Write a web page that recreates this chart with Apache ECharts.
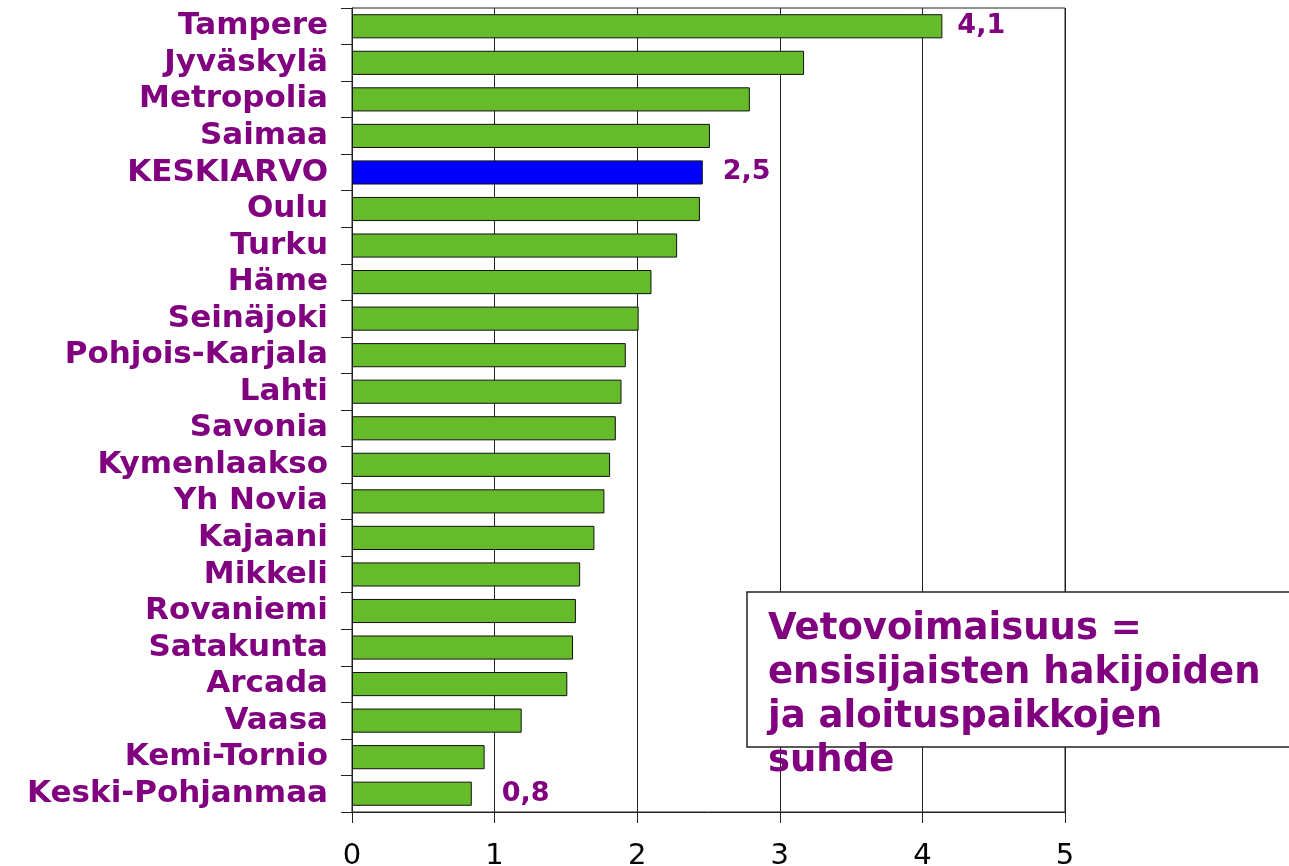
<!DOCTYPE html>
<html><head><meta charset="utf-8">
<script src="https://cdn.jsdelivr.net/npm/echarts@6/dist/echarts.min.js"></script>
<style>html,body{margin:0;padding:0;background:#fff}#c{width:1289px;height:866px}</style>
</head><body><div id="c"></div>
<script>
const categories = ["Tampere","Jyväskylä","Metropolia","Saimaa","KESKIARVO","Oulu","Turku","Häme","Seinäjoki","Pohjois-Karjala","Lahti","Savonia","Kymenlaakso","Yh Novia","Kajaani","Mikkeli","Rovaniemi","Satakunta","Arcada","Vaasa","Kemi-Tornio","Keski-Pohjanmaa"];
const values = [4.14,3.17,2.79,2.51,2.46,2.44,2.28,2.10,2.01,1.92,1.89,1.85,1.81,1.77,1.70,1.60,1.57,1.55,1.51,1.19,0.93,0.84];
const shownLabels = {"Tampere":"4,1","KESKIARVO":"2,5","Keski-Pohjanmaa":"0,8"};
const highlight = "KESKIARVO";
const xTicks = [0,1,2,3,4,5];
const noteLines = ["Vetovoimaisuus =","ensisijaisten hakijoiden","ja aloituspaikkojen","suhde"];

const PURPLE = "#800080";
const labelGap = {"Tampere":15,"KESKIARVO":20,"Keski-Pohjanmaa":30};
const chart = echarts.init(document.getElementById('c'));
const data = categories.map((c,i)=>({
  value: values[i],
  itemStyle: { color: c===highlight ? "#0000FF" : "#66BB2A", borderColor:"#111", borderWidth:1 },
  label: { show: !!shownLabels[c], formatter: shownLabels[c] || "", distance: labelGap[c] || 18 }
}));
chart.setOption({
  animation:false,
  grid:{left:352,right:224,top:8,bottom:54,show:true,borderColor:"#222",borderWidth:1,backgroundColor:"transparent",outerBoundsMode:"none",containLabel:false},
  xAxis:{type:"value",min:xTicks[0],max:xTicks[xTicks.length-1],interval:1,
    axisLine:{show:true,lineStyle:{color:"#222",width:1}},
    axisTick:{show:true,length:11,lineStyle:{color:"#222"}},
    splitLine:{show:true,lineStyle:{color:"#222",width:1}},
    axisLabel:{color:"#000",fontFamily:"DejaVu Sans",fontSize:29,margin:30}},
  yAxis:{type:"category",data:categories,inverse:true,
    axisLine:{show:true,lineStyle:{color:"#222",width:1}},
    axisTick:{show:true,length:11,interval:0,lineStyle:{color:"#222"}},
    axisLabel:{interval:0,color:PURPLE,fontFamily:"DejaVu Sans",fontWeight:"bold",fontSize:31,margin:24}},
  series:[{type:"bar",data:data,barCategoryGap:"34%",
    label:{position:"right",color:PURPLE,fontFamily:"DejaVu Sans",fontWeight:"bold",fontSize:27}}],
  graphic:[
    {type:"rect",shape:{x:747,y:592,width:560,height:155},style:{fill:"#fff",stroke:"#222",lineWidth:1.5},z:100},
    {type:"text",left:768,top:607,z:101,style:{text:noteLines.join("\n"),fill:PURPLE,font:"bold 37px 'DejaVu Sans'",lineHeight:44}}
  ]
});
</script></body></html>
